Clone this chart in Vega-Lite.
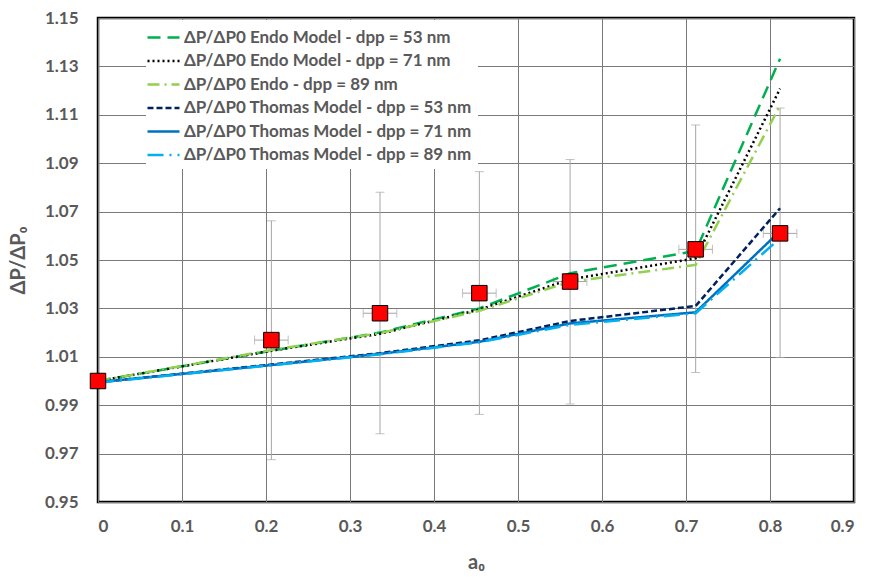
{
  "$schema": "https://vega.github.io/schema/vega-lite/v6.json",
  "width": 756,
  "height": 484,
  "autosize": {"type": "none"},
  "padding": {"left": 98, "top": 18, "right": 18, "bottom": 77},
  "background": "white",
  "config": {
    "view": {"stroke": "black", "strokeWidth": 2.5},
    "font": "Lato",
    "axis": {
      "grid": true,
      "gridColor": "#7a7a7a",
      "gridWidth": 1,
      "ticks": false,
      "domain": false,
      "labelFont": "Lato",
      "labelFontSize": 17,
      "labelFontWeight": "bold",
      "labelColor": "#595959",
      "titleFont": "Lato",
      "titleFontSize": 20,
      "titleFontWeight": "bold",
      "titleColor": "#595959"
    },
    "legend": {
      "orient": "none",
      "legendX": 48,
      "legendY": 2,
      "fillColor": "white",
      "padding": 6,
      "symbolType": "M-1.6,0H1.6",
      "symbolSize": 400,
      "symbolStrokeWidth": 2.5,
      "labelFont": "Lato",
      "labelFontSize": 17,
      "labelFontWeight": "bold",
      "labelColor": "#595959",
      "labelOffset": 9,
      "labelLimit": 0,
      "rowPadding": 3.5,
      "title": null
    }
  },
  "datasets": {
    "lines": [
      {"series": "ΔP/ΔP0 Endo Model - dpp = 53 nm", "x": 0, "y": 1.0},
      {"series": "ΔP/ΔP0 Endo Model - dpp = 53 nm", "x": 0.2064, "y": 1.0125},
      {"series": "ΔP/ΔP0 Endo Model - dpp = 53 nm", "x": 0.3357, "y": 1.0200},
      {"series": "ΔP/ΔP0 Endo Model - dpp = 53 nm", "x": 0.454, "y": 1.0300},
      {"series": "ΔP/ΔP0 Endo Model - dpp = 53 nm", "x": 0.562, "y": 1.0445},
      {"series": "ΔP/ΔP0 Endo Model - dpp = 53 nm", "x": 0.7115, "y": 1.0537},
      {"series": "ΔP/ΔP0 Endo Model - dpp = 53 nm", "x": 0.812, "y": 1.1332},
      {"series": "ΔP/ΔP0 Endo Model - dpp = 71 nm", "x": 0, "y": 1.0},
      {"series": "ΔP/ΔP0 Endo Model - dpp = 71 nm", "x": 0.2064, "y": 1.0125},
      {"series": "ΔP/ΔP0 Endo Model - dpp = 71 nm", "x": 0.3357, "y": 1.0195},
      {"series": "ΔP/ΔP0 Endo Model - dpp = 71 nm", "x": 0.454, "y": 1.0295},
      {"series": "ΔP/ΔP0 Endo Model - dpp = 71 nm", "x": 0.562, "y": 1.0420},
      {"series": "ΔP/ΔP0 Endo Model - dpp = 71 nm", "x": 0.7115, "y": 1.0507},
      {"series": "ΔP/ΔP0 Endo Model - dpp = 71 nm", "x": 0.812, "y": 1.1208},
      {"series": "ΔP/ΔP0 Endo - dpp = 89 nm", "x": 0, "y": 1.0},
      {"series": "ΔP/ΔP0 Endo - dpp = 89 nm", "x": 0.2064, "y": 1.0128},
      {"series": "ΔP/ΔP0 Endo - dpp = 89 nm", "x": 0.3357, "y": 1.0198},
      {"series": "ΔP/ΔP0 Endo - dpp = 89 nm", "x": 0.454, "y": 1.0290},
      {"series": "ΔP/ΔP0 Endo - dpp = 89 nm", "x": 0.562, "y": 1.0410},
      {"series": "ΔP/ΔP0 Endo - dpp = 89 nm", "x": 0.7115, "y": 1.0480},
      {"series": "ΔP/ΔP0 Endo - dpp = 89 nm", "x": 0.812, "y": 1.1139},
      {"series": "ΔP/ΔP0 Thomas Model - dpp = 53 nm", "x": 0, "y": 0.9995},
      {"series": "ΔP/ΔP0 Thomas Model - dpp = 53 nm", "x": 0.2064, "y": 1.0068},
      {"series": "ΔP/ΔP0 Thomas Model - dpp = 53 nm", "x": 0.3357, "y": 1.0115},
      {"series": "ΔP/ΔP0 Thomas Model - dpp = 53 nm", "x": 0.454, "y": 1.0168},
      {"series": "ΔP/ΔP0 Thomas Model - dpp = 53 nm", "x": 0.562, "y": 1.0248},
      {"series": "ΔP/ΔP0 Thomas Model - dpp = 53 nm", "x": 0.7115, "y": 1.0310},
      {"series": "ΔP/ΔP0 Thomas Model - dpp = 53 nm", "x": 0.812, "y": 1.0714},
      {"series": "ΔP/ΔP0 Thomas Model - dpp = 71 nm", "x": 0, "y": 0.9995},
      {"series": "ΔP/ΔP0 Thomas Model - dpp = 71 nm", "x": 0.2064, "y": 1.0066},
      {"series": "ΔP/ΔP0 Thomas Model - dpp = 71 nm", "x": 0.3357, "y": 1.0112},
      {"series": "ΔP/ΔP0 Thomas Model - dpp = 71 nm", "x": 0.454, "y": 1.0162},
      {"series": "ΔP/ΔP0 Thomas Model - dpp = 71 nm", "x": 0.562, "y": 1.0238},
      {"series": "ΔP/ΔP0 Thomas Model - dpp = 71 nm", "x": 0.7115, "y": 1.0284},
      {"series": "ΔP/ΔP0 Thomas Model - dpp = 71 nm", "x": 0.812, "y": 1.0620},
      {"series": "ΔP/ΔP0 Thomas Model - dpp = 89 nm", "x": 0, "y": 0.9993},
      {"series": "ΔP/ΔP0 Thomas Model - dpp = 89 nm", "x": 0.2064, "y": 1.0065},
      {"series": "ΔP/ΔP0 Thomas Model - dpp = 89 nm", "x": 0.3357, "y": 1.0110},
      {"series": "ΔP/ΔP0 Thomas Model - dpp = 89 nm", "x": 0.454, "y": 1.0160},
      {"series": "ΔP/ΔP0 Thomas Model - dpp = 89 nm", "x": 0.562, "y": 1.0232},
      {"series": "ΔP/ΔP0 Thomas Model - dpp = 89 nm", "x": 0.7115, "y": 1.0280},
      {"series": "ΔP/ΔP0 Thomas Model - dpp = 89 nm", "x": 0.812, "y": 1.0590}
    ],
    "points": [
      {"x": 0, "y": 1.0},
      {"x": 0.2064, "y": 1.0169},
      {"x": 0.3357, "y": 1.0280},
      {"x": 0.454, "y": 1.0363},
      {"x": 0.562, "y": 1.0411},
      {"x": 0.7115, "y": 1.0544},
      {"x": 0.812, "y": 1.0610}
    ],
    "errors": [
      {"x": 0.2064, "y": 1.0169, "ylo": 0.9675, "yhi": 1.0662, "xlo": 0.1864, "xhi": 0.2264},
      {"x": 0.3357, "y": 1.0280, "ylo": 0.9782, "yhi": 1.0780, "xlo": 0.3157, "xhi": 0.3557},
      {"x": 0.454, "y": 1.0363, "ylo": 0.9862, "yhi": 1.0865, "xlo": 0.434, "xhi": 0.474},
      {"x": 0.562, "y": 1.0411, "ylo": 0.9905, "yhi": 1.0915, "xlo": 0.542, "xhi": 0.582},
      {"x": 0.7115, "y": 1.0544, "ylo": 1.0035, "yhi": 1.1058, "xlo": 0.6915, "xhi": 0.7315},
      {"x": 0.812, "y": 1.0610, "ylo": 1.0097, "yhi": 1.1128, "xlo": 0.792, "xhi": 0.832}
    ]
  },
  "encoding": {
    "x": {
      "field": "x", "type": "quantitative",
      "scale": {"domain": [0, 0.9], "nice": false, "zero": false},
      "axis": {"values": [0, 0.1, 0.2, 0.3, 0.4, 0.5, 0.6, 0.7, 0.8, 0.9], "format": "~g", "labelPadding": 16, "title": "a₀", "titlePadding": 18}
    },
    "y": {
      "field": "y", "type": "quantitative",
      "scale": {"domain": [0.95, 1.15], "nice": false, "zero": false},
      "axis": {"values": [0.95, 0.97, 0.99, 1.01, 1.03, 1.05, 1.07, 1.09, 1.11, 1.13, 1.15], "format": ".2f", "labelPadding": 20, "title": "ΔP/ΔP₀", "titlePadding": 16}
    }
  },
  "layer": [
    {
      "data": {"name": "errors"},
      "mark": {"type": "rule", "color": "#a6a6a6", "strokeWidth": 1},
      "encoding": {"y": {"field": "ylo", "type": "quantitative"}, "y2": {"field": "yhi"}}
    },
    {
      "data": {"name": "errors"},
      "mark": {"type": "rule", "color": "#a6a6a6", "strokeWidth": 1},
      "encoding": {"x": {"field": "xlo", "type": "quantitative"}, "x2": {"field": "xhi"}}
    },
    {
      "data": {"name": "errors"},
      "mark": {"type": "tick", "orient": "horizontal", "color": "#a6a6a6", "size": 9, "thickness": 1},
      "encoding": {"y": {"field": "ylo", "type": "quantitative"}}
    },
    {
      "data": {"name": "errors"},
      "mark": {"type": "tick", "orient": "horizontal", "color": "#a6a6a6", "size": 9, "thickness": 1},
      "encoding": {"y": {"field": "yhi", "type": "quantitative"}}
    },
    {
      "data": {"name": "errors"},
      "mark": {"type": "tick", "orient": "vertical", "color": "#a6a6a6", "size": 9, "thickness": 1},
      "encoding": {"x": {"field": "xlo", "type": "quantitative"}}
    },
    {
      "data": {"name": "errors"},
      "mark": {"type": "tick", "orient": "vertical", "color": "#a6a6a6", "size": 9, "thickness": 1},
      "encoding": {"x": {"field": "xhi", "type": "quantitative"}}
    },
    {
      "data": {"name": "lines"},
      "mark": {"type": "line", "strokeWidth": 2.5},
      "encoding": {
        "color": {
          "field": "series", "type": "nominal",
          "scale": {
            "domain": ["ΔP/ΔP0 Endo Model - dpp = 53 nm", "ΔP/ΔP0 Endo Model - dpp = 71 nm", "ΔP/ΔP0 Endo - dpp = 89 nm", "ΔP/ΔP0 Thomas Model - dpp = 53 nm", "ΔP/ΔP0 Thomas Model - dpp = 71 nm", "ΔP/ΔP0 Thomas Model - dpp = 89 nm"],
            "range": ["#00B050", "#000000", "#92D050", "#002060", "#0070C0", "#00B0F0"]
          },
          "legend": {"title": null}
        },
        "strokeDash": {
          "field": "series", "type": "nominal",
          "scale": {
            "domain": ["ΔP/ΔP0 Endo Model - dpp = 53 nm", "ΔP/ΔP0 Endo Model - dpp = 71 nm", "ΔP/ΔP0 Endo - dpp = 89 nm", "ΔP/ΔP0 Thomas Model - dpp = 53 nm", "ΔP/ΔP0 Thomas Model - dpp = 71 nm", "ΔP/ΔP0 Thomas Model - dpp = 89 nm"],
            "range": [[13, 7], [2, 3], [12, 5, 2, 5], [6, 3], [1, 0], [16, 6, 2, 6]]
          },
          "legend": {"title": null}
        }
      }
    },
    {
      "data": {"name": "points"},
      "mark": {"type": "square", "size": 240, "color": "#FF0000", "filled": true, "opacity": 1, "stroke": "black", "strokeWidth": 1}
    }
  ]
}
